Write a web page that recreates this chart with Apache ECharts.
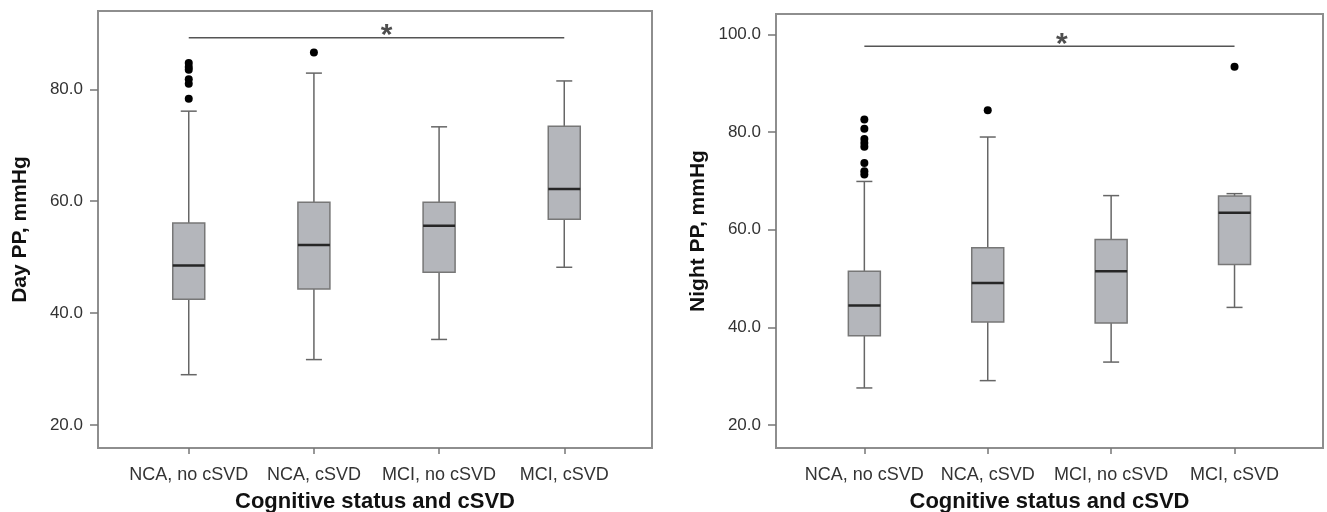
<!DOCTYPE html>
<html>
<head>
<meta charset="utf-8">
<title>Day and night PP by cognitive status and cSVD</title>
<script src="https://cdn.jsdelivr.net/npm/echarts@6/dist/echarts.min.js"></script>
<style>
  html, body { margin: 0; padding: 0; background: #fff; }
  #chart { width: 1327px; height: 512px; }
</style>
</head>
<body>
<div id="chart"></div>
<script>
const categories = ['NCA, no cSVD', 'NCA, cSVD', 'MCI, no cSVD', 'MCI, cSVD'];

// [min whisker, Q1, median, Q3, max whisker]
const dayBoxes = [
  [29.0, 42.5, 48.5, 56.1, 76.1],
  [31.7, 44.3, 52.2, 59.8, 82.9],
  [35.3, 47.3, 55.6, 59.8, 73.3],
  [48.2, 56.8, 62.2, 73.4, 81.5],
];
const dayOutliers = [
  [0, 84.7], [0, 84.0], [0, 83.5], [0, 81.8], [0, 81.0], [0, 78.3],
  [1, 86.6],
];
const nightBoxes = [
  [27.6, 38.3, 44.5, 51.5, 69.9],
  [29.1, 41.1, 49.1, 56.3, 79.0],
  [32.9, 40.9, 51.5, 58.0, 67.0],
  [44.1, 52.9, 63.5, 66.9, 67.4],
];
const nightOutliers = [
  [0, 82.6], [0, 80.7], [0, 78.6], [0, 77.8], [0, 77.0], [0, 73.7], [0, 72.0], [0, 71.3],
  [1, 84.5],
  [3, 93.4],
];

const dayTicks = [20, 40, 60, 80];
const nightTicks = [20, 40, 60, 80, 100];
const catTicks = [0, 1, 2, 3];

// significance bar between first and last group
const daySig = [[0, 89.2], [3, 89.2]];
const nightSig = [[0, 97.6], [3, 97.6]];
const dayStar = [[1.58, 90.9]];
const nightStar = [[1.6, 99.4]];

const FONT = '"Liberation Sans", Arial, sans-serif';
const FRAME = '#8e8e8e';

const chart = echarts.init(document.getElementById('chart'), null, { renderer: 'canvas' });

const renderBox = (params, api) => {
  const x = api.value(0);
  const lo = api.coord([x, api.value(1)]);
  const q1 = api.coord([x, api.value(2)]);
  const med = api.coord([x, api.value(3)]);
  const q3 = api.coord([x, api.value(4)]);
  const hi = api.coord([x, api.value(5)]);
  const bw = 32;
  const cw = 16;
  const cx = lo[0];
  const whisker = { stroke: '#666', lineWidth: 1.5 };
  return {
    type: 'group',
    children: [
      { type: 'line', shape: { x1: cx, y1: lo[1], x2: cx, y2: q1[1] }, style: whisker },
      { type: 'line', shape: { x1: cx, y1: q3[1], x2: cx, y2: hi[1] }, style: whisker },
      { type: 'line', shape: { x1: cx - cw / 2, y1: lo[1], x2: cx + cw / 2, y2: lo[1] }, style: whisker },
      { type: 'line', shape: { x1: cx - cw / 2, y1: hi[1], x2: cx + cw / 2, y2: hi[1] }, style: whisker },
      {
        type: 'rect',
        shape: { x: cx - bw / 2, y: q3[1], width: bw, height: q1[1] - q3[1] },
        style: { fill: '#b4b6bb', stroke: '#777', lineWidth: 1.5 },
      },
      { type: 'line', shape: { x1: cx - bw / 2, y1: med[1], x2: cx + bw / 2, y2: med[1] }, style: { stroke: '#262626', lineWidth: 2.5 } },
    ],
  };
};

const xAxisFor = (gridIndex, min, max) => ({
  type: 'value',
  gridIndex,
  min,
  max,
  name: 'Cognitive status and cSVD',
  nameLocation: 'middle',
  nameGap: 43,
  nameTextStyle: { fontFamily: FONT, fontSize: 22, fontWeight: 'bold', color: '#111' },
  axisLine: { show: true, onZero: false, lineStyle: { color: FRAME, width: 2 } },
  axisTick: { show: true, customValues: catTicks, length: 6, lineStyle: { color: '#777', width: 1.5 } },
  axisLabel: {
    customValues: catTicks,
    formatter: v => categories[v],
    margin: 18,
    fontFamily: FONT,
    fontSize: 18,
    color: '#333',
  },
  splitLine: { show: false },
});

const yAxisFor = (gridIndex, min, max, ticks, name) => ({
  type: 'value',
  gridIndex,
  min,
  max,
  name,
  nameLocation: 'middle',
  nameRotate: 90,
  nameGap: 67,
  nameTextStyle: { fontFamily: FONT, fontSize: 21, fontWeight: 'bold', color: '#111' },
  axisLine: { show: true, onZero: false, lineStyle: { color: FRAME, width: 2 } },
  axisTick: { show: true, customValues: ticks, length: 8, lineStyle: { color: '#777', width: 1.5 } },
  axisLabel: {
    customValues: ticks,
    formatter: v => v.toFixed(1),
    margin: 15,
    fontFamily: FONT,
    fontSize: 17,
    color: '#333',
  },
  splitLine: { show: false },
});

const seriesFor = (idx, boxes, outliers, sig, star) => [
  {
    type: 'custom',
    xAxisIndex: idx,
    yAxisIndex: idx,
    renderItem: renderBox,
    data: boxes.map((b, i) => [i, ...b]),
    z: 2,
  },
  {
    type: 'scatter',
    xAxisIndex: idx,
    yAxisIndex: idx,
    symbolSize: 8,
    itemStyle: { color: '#000', opacity: 1 },
    data: outliers,
    z: 3,
  },
  {
    type: 'line',
    xAxisIndex: idx,
    yAxisIndex: idx,
    symbol: 'none',
    lineStyle: { color: '#555', width: 1.5 },
    data: sig,
  },
  {
    type: 'scatter',
    xAxisIndex: idx,
    yAxisIndex: idx,
    symbolSize: 1,
    itemStyle: { color: 'transparent' },
    label: {
      show: true,
      position: 'inside',
      formatter: '*',
      fontFamily: FONT,
      fontSize: 30,
      fontWeight: 'bold',
      color: '#222',
      offset: [0, 7],
    },
    data: star,
  },
];

const option = {
  animation: false,
  backgroundColor: '#fff',
  grid: [
    { left: 98, right: 675, top: 11, bottom: 64, show: true, borderColor: FRAME, borderWidth: 2, outerBoundsMode: 'none' },
    { left: 776, right: 4, top: 14, bottom: 64, show: true, borderColor: FRAME, borderWidth: 2, outerBoundsMode: 'none' },
  ],
  xAxis: [
    xAxisFor(0, -0.725, 3.701),
    xAxisFor(1, -0.716, 3.717),
  ],
  yAxis: [
    yAxisFor(0, 15.9, 94.0, dayTicks, 'Day PP, mmHg'),
    yAxisFor(1, 15.3, 104.2, nightTicks, 'Night PP, mmHg'),
  ],
  series: [
    ...seriesFor(0, dayBoxes, dayOutliers, daySig, dayStar),
    ...seriesFor(1, nightBoxes, nightOutliers, nightSig, nightStar),
  ],
};

chart.setOption(option);
window.addEventListener('resize', chart.resize);
</script>
</body>
</html>
